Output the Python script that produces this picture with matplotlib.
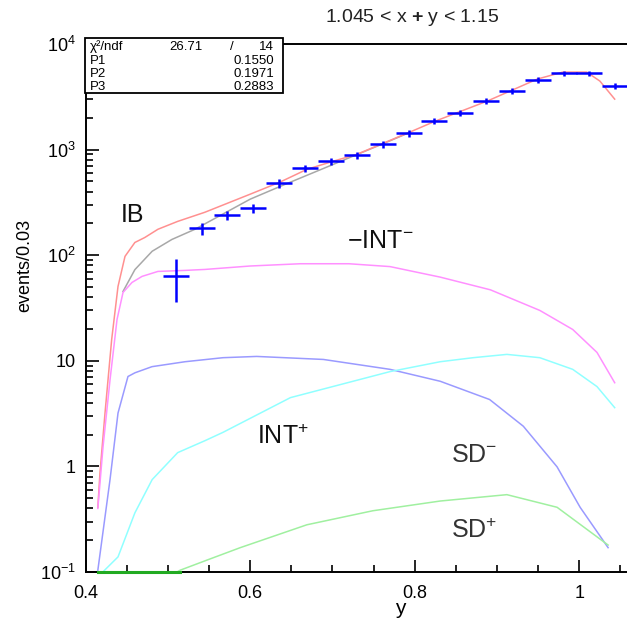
import matplotlib
matplotlib.use("Agg")
import matplotlib.pyplot as plt
import numpy as np
from matplotlib.patches import Rectangle

plt.rcParams['font.family'] = ['Liberation Sans', 'DejaVu Sans']
plt.rcParams['mathtext.fontset'] = 'custom'
plt.rcParams['mathtext.rm'] = 'Liberation Sans'
plt.rcParams['mathtext.it'] = 'Liberation Sans:italic'
plt.rcParams['mathtext.bf'] = 'Liberation Sans:bold'

# ---- data points (events per 0.03 bin) ----
bin_x = [0.510, 0.541, 0.572, 0.604, 0.635, 0.667, 0.698, 0.730, 0.761, 0.793,
         0.823, 0.855, 0.887, 0.918, 0.950, 0.981, 1.012, 1.043]
bin_hw = 0.0158
counts = [64, 180, 240, 278, 480, 666, 776, 885, 1125, 1430,
          1860, 2215, 2880, 3580, 4550, 5300, 5300, 4000]
count_err = [28, 24, 25, 25, 45, 55, 60, 65, 80, 100,
             120, 140, 180, 220, 270, 300, 300, 260]

# ---- model curves ----
total_x = [0.415, 0.4176, 0.4237, 0.4318, 0.4395, 0.448, 0.460, 0.472, 0.488, 0.512,
           0.545, 0.600, 0.636, 0.669, 0.701, 0.730, 0.762, 0.794, 0.825, 0.888,
           0.949, 0.980, 1.009, 1.025, 1.043]
total_y = [0.41, 0.87, 3.2, 15.9, 50.6, 97.5, 132, 147, 176, 209,
           255, 378, 491, 650, 776, 904, 1151, 1463, 1860, 2877,
           4656, 5420, 5420, 4456, 3006]

ib_x = [0.4456, 0.460, 0.481, 0.505, 0.533, 0.600, 0.640, 0.681, 0.762, 0.794]
ib_y = [45.4, 73, 109, 141, 176, 339, 460, 624, 1140, 1455]

intm_x = [0.415, 0.4213, 0.4298, 0.4383, 0.4456, 0.4565, 0.4687, 0.488, 0.521, 0.545,
          0.600, 0.661, 0.720, 0.770, 0.831, 0.892, 0.952, 0.992, 1.0215, 1.043]
intm_y = [0.40, 1.53, 6.6, 24.6, 44.4, 55.2, 63, 70.2, 71.8, 73.3,
          79, 83, 83, 78, 62, 47, 30, 19.8, 12, 6.2]

sdm_x = [0.415, 0.4298, 0.4395, 0.4516, 0.4601, 0.4808, 0.5209, 0.567, 0.608, 0.689,
         0.770, 0.831, 0.891, 0.932, 0.973, 1.001, 1.035]
sdm_y = [0.104, 0.75, 3.2, 7.1, 7.7, 8.8, 9.8, 10.7, 11.0, 10.3,
         8.3, 6.4, 4.3, 2.4, 0.99, 0.41, 0.17]

intp_x = [0.421, 0.4395, 0.460, 0.481, 0.512, 0.545, 0.567, 0.649, 0.770, 0.831,
          0.871, 0.912, 0.952, 0.992, 1.0215, 1.043]
intp_y = [0.10, 0.139, 0.363, 0.75, 1.35, 1.75, 2.1, 4.48, 7.9, 9.8,
          10.7, 11.5, 10.7, 8.3, 5.7, 3.6]

sdp_x = [0.415, 0.45, 0.49, 0.515, 0.548, 0.588, 0.669, 0.749, 0.831, 0.912, 0.973, 1.035]
sdp_y = [0.03, 0.05, 0.08, 0.104, 0.13, 0.17, 0.28, 0.38, 0.47, 0.54, 0.41, 0.18]

y_ticks = [0.1, 1, 10, 100, 1000, 10000]
y_tick_labels = ['$10^{-1}$', '1', '10', '$10^{2}$', '$10^{3}$', '$10^{4}$']
x_ticks = [0.4, 0.6, 0.8, 1.0]
x_tick_labels = ['0.4', '0.6', '0.8', '1']

stat_names = ['P1', 'P2', 'P3']
stat_values = ['0.1550', '0.1971', '0.2883']

W, H = 627, 625
fig = plt.figure(figsize=(W / 100, H / 100), dpi=100)
ax = fig.add_axes([85.5 / W, 1 - 572 / H, 1 - 85.5 / W, (572 - 44) / H])

ymin = 0.1
ax.plot(ib_x, ib_y, color='#a8a8a8', lw=1.1, zorder=2)
ax.plot(total_x, total_y, color='#ff9090', lw=1.1, zorder=2)
ax.plot(intm_x, intm_y, color='#ff90ff', lw=1.1, zorder=2)
ax.plot(sdm_x, sdm_y, color='#9a9aff', lw=1.1, zorder=2)
ax.plot(intp_x, intp_y, color='#90ffff', lw=1.1, zorder=2)
ax.plot(sdp_x, sdp_y, color='#a0f0a0', lw=1.1, zorder=2)
# part of SD+ below the frame is drawn on the bottom edge
sx = np.array(sdp_x)
sy = np.array(sdp_y)
low = sy <= ymin
seg = low | np.roll(low, 1)
ax.plot(sx[seg], np.full(seg.sum(), ymin),
        color='#22aa22', lw=2.2, zorder=4, clip_on=False)

ax.errorbar(bin_x, counts, xerr=bin_hw, yerr=count_err, fmt='none',
            ecolor='#0000ff', elinewidth=1.8, capsize=0, zorder=5)

ax.set_yscale('log')
ax.set_xlim(0.4, 0.4 + (W - 85.5) / 823)
ax.set_ylim(ymin, 1e4)
ax.set_yticks(y_ticks)
ax.set_yticklabels(y_tick_labels)
ax.set_xticks(x_ticks)
ax.set_xticklabels(x_tick_labels)
ax.set_xticks(np.arange(0.45, 1.06, 0.05), minor=True)
ax.tick_params(which='both', direction='in', width=1.2, labelsize=13)
ax.tick_params(which='major', length=9)
ax.tick_params(which='minor', length=5)
ax.tick_params(axis='x', pad=9)
ax.tick_params(axis='y', pad=7)
ax.spines['right'].set_visible(False)
for s in ['left', 'bottom', 'top']:
    ax.spines[s].set_linewidth(1.4)

# curve labels
lbl = dict(fontsize=18, ha='center', va='center', color='#111111')
ax.text(0.4577, 238, 'IB', **lbl)
ax.text(0.758, 135, '\u2212INT$^{\u2212}$', **lbl)
ax.text(0.640, 1.92, 'INT$^{+}$', **lbl)
ax.text(0.872, 1.27, 'SD$^{\u2212}$', color='#333333', fontsize=18, ha='center', va='center')
ax.text(0.872, 0.244, 'SD$^{+}$', color='#333333', fontsize=18, ha='center', va='center')

# axis titles and title
fig.text(25 / W, 1 - 265 / H, 'events/0.03', rotation=90, fontsize=13,
         ha='center', va='center')
fig.text(400 / W, 1 - 608 / H, 'y', fontsize=15, ha='center', va='center')
fig.text(412 / W, 1 - 17 / H, r'1.045 < x $\mathbf{+}$ y < 1.15', fontsize=14,
         ha='center', va='center', color='#222222')

# fit statistics box
box = Rectangle((85 / W, 1 - 93 / H), 198 / W, 55 / H, transform=fig.transFigure,
                facecolor='white', edgecolor='black', lw=1.3, zorder=10)
fig.patches.append(box)
rows_y = [46.5, 60.5, 74, 87.5]
fs = 9.5
fig.text(90 / W, 1 - rows_y[0] / H, '\u03c7\u00b2/ndf', fontsize=fs, va='center', zorder=11)
fig.text(203 / W, 1 - rows_y[0] / H, '26.71', fontsize=fs, va='center', ha='right', zorder=11)
fig.text(232 / W, 1 - rows_y[0] / H, '/', fontsize=fs, va='center', ha='center', zorder=11)
fig.text(274 / W, 1 - rows_y[0] / H, '14', fontsize=fs, va='center', ha='right', zorder=11)
for name, val, yy in zip(stat_names, stat_values, rows_y[1:]):
    fig.text(90 / W, 1 - yy / H, name, fontsize=fs, va='center', zorder=11)
    fig.text(274 / W, 1 - yy / H, val, fontsize=fs, va='center', ha='right', zorder=11)

fig.savefig('out.png', dpi=100)
